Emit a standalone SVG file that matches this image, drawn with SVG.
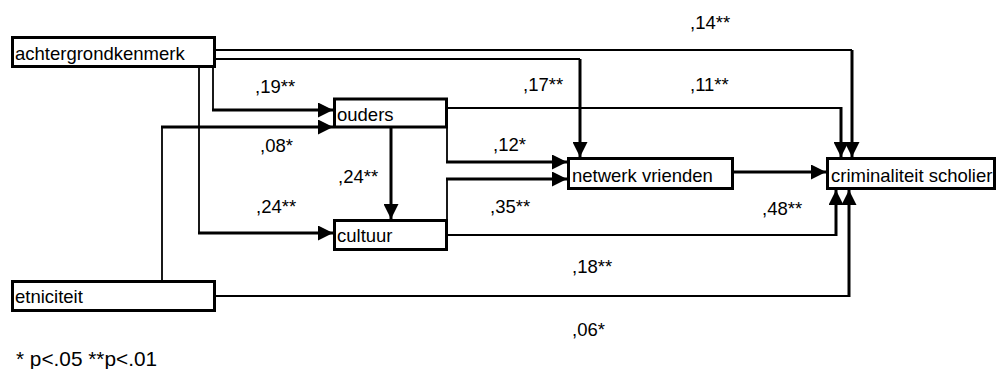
<svg xmlns="http://www.w3.org/2000/svg" width="997" height="369" viewBox="0 0 997 369">
<style>
.box{fill:#fff;stroke:#000;stroke-width:3}
.t{font-family:"Liberation Sans",Arial,sans-serif;font-size:18.5px;fill:#000}
.fn{font-family:"Liberation Sans",Arial,sans-serif;font-size:20.8px;fill:#000}
.thin{fill:none;stroke:#000;stroke-width:1.8}
.thick{fill:none;stroke:#000;stroke-width:3;marker-end:url(#ah)}
</style>
<defs>
<marker id="ah" markerUnits="userSpaceOnUse" markerWidth="15" markerHeight="15" refX="15" refY="7.5" orient="auto">
<path d="M0,0 L15,7.5 L0,15 z" fill="#000"/>
</marker>
</defs>
<rect width="997" height="369" fill="#fff"/>
<g id="connectors">
<path class="thin" d="M215,50 H852"/><path class="thick" d="M852,50 V157"/>
<path class="thin" d="M215,59 H580"/><path class="thick" d="M580,59 V157"/>
<path class="thin" d="M213,67 V110"/><path class="thick" d="M212,110 H333"/>
<path class="thin" d="M199,67 V233"/><path class="thick" d="M198,233 H333"/>
<path class="thin" d="M162,281 V127"/><path class="thick" d="M161,127 H333"/>
<path class="thick" d="M391,128 V219"/>
<path class="thin" d="M447,128 V162"/><path class="thick" d="M446,162 H567"/>
<path class="thin" d="M447,220 V179"/><path class="thick" d="M446,179 H567"/>
<path class="thin" d="M448,108 H841"/><path class="thick" d="M841,107 V157"/>
<path class="thick" d="M733,172 H826"/>
<path class="thin" d="M447,235 H836"/><path class="thick" d="M836,236 V190"/>
<path class="thin" d="M215,296 H849"/><path class="thick" d="M849,297 V190"/>
</g>
<g id="achtergrondkenmerk"><rect class="box" x="12.5" y="37.5" width="202" height="29"/><text class="t" x="15" y="60">achtergrondkenmerk</text></g>
<g id="ouders"><rect class="box" x="334.5" y="99" width="112" height="28"/><text class="t" x="337" y="121">ouders</text></g>
<g id="cultuur"><rect class="box" x="334.5" y="220.5" width="112" height="29"/><text class="t" x="337" y="242">cultuur</text></g>
<g id="netwerk"><rect class="box" x="568.5" y="158.5" width="164" height="30"/><text class="t" x="572" y="182">netwerk vrienden</text></g>
<g id="criminaliteit"><rect class="box" x="827.5" y="158.5" width="167" height="30"/><text class="t" x="831" y="182">criminaliteit scholier</text></g>
<g id="etniciteit"><rect class="box" x="12.5" y="281.5" width="202" height="29"/><text class="t" x="15" y="303">etniciteit</text></g>
<g id="labels">
<text class="t" x="690" y="29">,14**</text>
<text class="t" x="690" y="91">,11**</text>
<text class="t" x="523" y="91">,17**</text>
<text class="t" x="255" y="93">,19**</text>
<text class="t" x="260" y="152">,08*</text>
<text class="t" x="338" y="183">,24**</text>
<text class="t" x="256" y="213">,24**</text>
<text class="t" x="493" y="151">,12*</text>
<text class="t" x="490" y="213">,35**</text>
<text class="t" x="762" y="215">,48**</text>
<text class="t" x="572" y="273">,18**</text>
<text class="t" x="572" y="336">,06*</text>
<text class="fn" x="16" y="366">* p&lt;.05 **p&lt;.01</text>
</g>
</svg>
